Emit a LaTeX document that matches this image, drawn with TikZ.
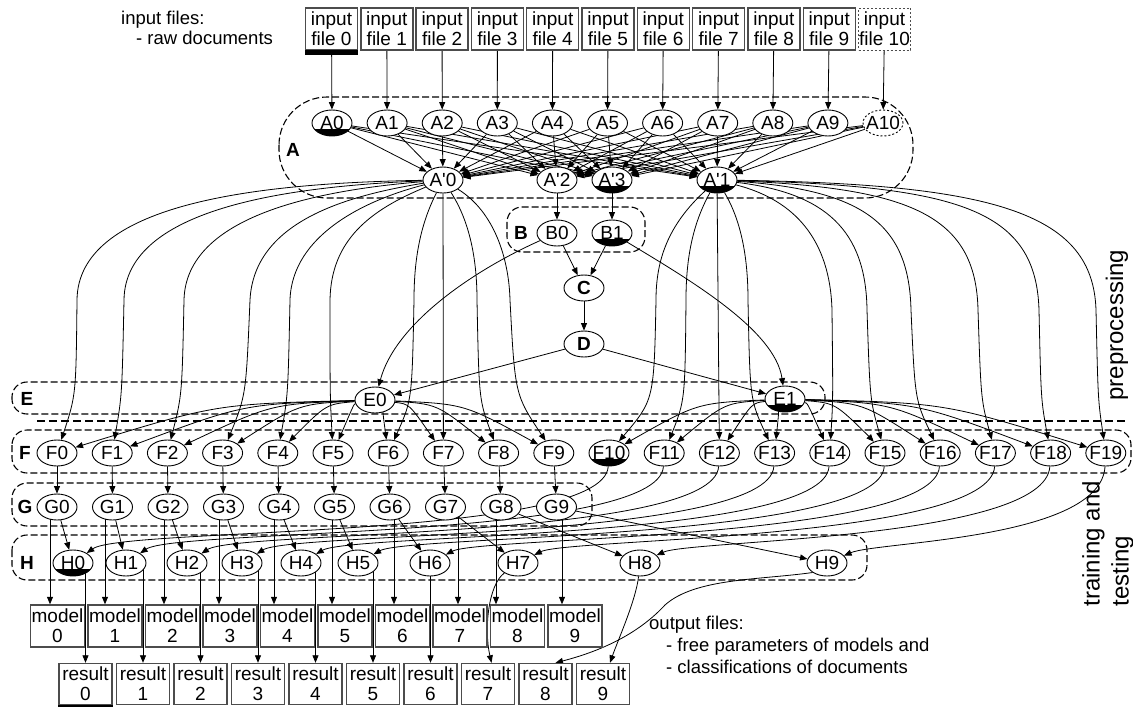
\documentclass[tikz,border=0pt]{standalone}
\usepackage{fontspec}
\newfontfamily\dgfont{Liberation Sans}
\usetikzlibrary{arrows.meta,shapes.geometric}
\pgfdeclarelayer{bg}
\pgfsetlayers{bg,main}
\begin{document}
\begin{tikzpicture}[x=1pt,y=-1pt,
  font=\dgfont\fontsize{19}{20}\selectfont,
  nd/.style={ellipse,draw,line width=0.9pt,fill=white,minimum width=40pt,minimum height=26pt,inner xsep=-3pt,inner ysep=0pt},
  capped/.style={path picture={\fill[black] (path picture bounding box.south west) rectangle ([yshift=7pt]path picture bounding box.south east);}},
  dotnd/.style={dash pattern=on 2pt off 2pt},
  filebox/.style={draw=black!70,line width=1.4pt,fill=white,minimum width=52pt,minimum height=42pt,inner sep=0pt,align=center},
  edge/.style={line width=0.8pt,-{Triangle[length=7.5pt,width=6pt]}},
  grp/.style={draw,line width=1.1pt,dash pattern=on 7pt off 3pt,rounded corners=15pt},
  glabel/.style={font=\dgfont\fontsize{19}{20}\selectfont\bfseries},
]
\useasboundingbox (0,0) rectangle (1133,707);

% ---------- input files ----------
\node[anchor=north west,align=left,inner sep=0pt,font=\dgfont\fontsize{18.5}{20}\selectfont] (inlabel) at (121,11) {input files:\\\hspace*{15pt}- raw documents};
\foreach \i in {0,...,9}
  \node[filebox] (in\i) at ({331.5+55.3*\i},29) {input\\file \i};
\node[filebox,line width=1pt,dash pattern=on 2pt off 2pt] (in10) at (884.5,29) {input\\file 10};
\fill ([yshift=0.7pt]in0.south west) rectangle ([yshift=-4pt]in0.south east);

% ---------- stage A ----------
\node[nd,capped] (A0) at (332,123) {A0};
\foreach \i in {1,...,9}
  \node[nd] (A\i) at ({332+55.1*\i},123) {A\i};
\node[nd,dotnd] (A10) at (883,123) {A10};
\node[nd] (Ap0) at (443,180) {A'0};
\node[nd] (Ap2) at (557,180) {A'2};
\node[nd,capped] (Ap3) at (612,180) {A'3};
\node[nd,capped] (Ap1) at (717,180) {A'1};
\node[glabel] (labA) at (293,150) {A};

% ---------- stages B, C, D ----------
\node[nd] (B0) at (557,233) {B0};
\node[nd,capped] (B1) at (612,233) {B1};
\node[glabel] (labB) at (521,233) {B};
\node[nd,glabel] (C) at (584,288) {C};
\node[nd,glabel] (D) at (584,344) {D};

% ---------- stage E ----------
\node[nd] (E0) at (375,400) {E0};
\node[nd,capped] (E1) at (785,399) {E1};
\node[glabel] (labE) at (27,399) {E};

% ---------- stage F ----------
\foreach \i in {0,...,9}
  \node[nd] (F\i) at ({57+55.2*\i},453) {F\i};
\node[nd,capped] (F10) at (609,453) {F10};
\foreach \i in {11,...,19}
  \node[nd] (F\i) at ({57+55.2*\i},453) {F\i};
\node[glabel] (labF) at (25,453) {F};

% ---------- stage G ----------
\foreach \i in {0,...,9}
  \node[nd] (G\i) at ({57+55.5*\i},507) {G\i};
\node[glabel] (labG) at (25,507) {G};

% ---------- stage H ----------
\node[nd,capped] (H0) at (73,563) {H0};
\foreach \i/\x in {1/126,2/187,3/242,4/301,5/358,6/430,7/518,8/640,9/827}
  \node[nd] (H\i) at (\x,563) {H\i};
\node[glabel] (labH) at (27,563) {H};

% ---------- output files ----------
\foreach \i in {0,...,9}
  \node[filebox,minimum width=54pt] (model\i) at ({57.5+57.5*\i},626) {model\\\i};
\foreach \i in {0,...,9}
  \node[filebox,minimum width=53pt,minimum height=41pt] (result\i) at ({85.5+57.5*\i},684) {result\\\i};
\fill (result0.south west) rectangle ([yshift=-3pt]result0.south east);
\node[anchor=north west,align=left,inner sep=0pt,font=\dgfont\fontsize{18.5}{22}\selectfont] (outlabel) at (649,616)
  {output files:\\\hspace*{17pt}- free parameters of models and\\\hspace*{17pt}- classifications of documents};

% ---------- phase captions ----------
\node[rotate=90,font=\dgfont\fontsize{24}{29}\selectfont] (prep) at (1117,325) {preprocessing};
\node[rotate=90,anchor=west,align=left,font=\dgfont\fontsize{24}{29}\selectfont] (train) at (1108,610) {training and\\testing};

\begin{pgfonlayer}{bg}
  % clusters
  \draw[grp,rounded corners=48pt] (279,97) rectangle (913,198);
  \draw[grp] (507,207) rectangle (645,252);
  \draw[grp] (12,382) rectangle (825,414);
  \draw[grp] (12,430) rectangle (1131,473);
  \draw[grp] (12,483) rectangle (592,526);
  \draw[grp] (12,535) rectangle (867,580);
  \draw[line width=2pt,dash pattern=on 8pt off 4pt] (37,421) -- (1125,421);

  % input files into A
  \foreach \i in {0,...,10}
    \draw[edge] (in\i) -- (A\i);
  \foreach \i in {0,...,10}{
    \foreach \j in {0,...,3}{
      \draw[edge] (A\i) -- (Ap\j);
    }
  }
  \draw[edge] (Ap2) -- (B0);
  \draw[edge] (Ap3) -- (B1);
  \draw[edge] (B0) -- (C);
  \draw[edge] (B1) -- (C);
  \draw[edge] (C) -- (D);
  \draw[edge] (B0) .. controls (470,272) and (395,325) .. (E0);
  \draw[edge] (B1) .. controls (690,280) and (775,330) .. (E1);
  \draw[edge] (D) -- (E0);
  \draw[edge] (D) -- (E1);

  % A'0 into F0..F9
  \draw[edge] (Ap0) .. controls (250,183) and (78,205) .. (77,300) .. controls (76,395) .. (F0);
  \draw[edge] (Ap0) .. controls (300,186) and (125,205) .. (124,300) .. controls (122,395) .. (F1);
  \draw[edge] (Ap0) .. controls (320,190) and (186,215) .. (184,300) .. controls (182,395) .. (F2);
  \draw[edge] (Ap0) .. controls (345,196) and (254,222) .. (250,300) .. controls (246,395) .. (F3);
  \draw[edge] (Ap0) .. controls (365,200) and (292,235) .. (290,300) .. controls (288,395) .. (F4);
  \draw[edge] (Ap0) .. controls (370,210) and (331,240) .. (330,300) .. controls (330,395) .. (F5);
  \draw[edge] (Ap0) .. controls (420,225) and (414,260) .. (414,300) .. controls (412,400) .. (F6);
  \draw[edge] (Ap0) -- (F7);
  \draw[edge] (Ap0) .. controls (470,222) and (477,260) .. (477,300) .. controls (479,400) .. (F8);
  \draw[edge] (Ap0) .. controls (495,212) and (509,260) .. (510,300) .. controls (515,395) .. (F9);

  % A'1 into F10..F19
  \draw[edge] (Ap1) .. controls (668,225) and (656,260) .. (656,300) .. controls (654,400) .. (F10);
  \draw[edge] (Ap1) .. controls (692,225) and (686,260) .. (686,300) .. controls (685,400) .. (F11);
  \draw[edge] (Ap1) -- (F12);
  \draw[edge] (Ap1) .. controls (742,222) and (748,260) .. (748,300) .. controls (750,400) .. (F13);
  \draw[edge] (Ap1) .. controls (795,200) and (830,240) .. (832,310) .. controls (833,400) .. (F14);
  \draw[edge] (Ap1) .. controls (825,193) and (866,230) .. (867,310) .. controls (870,400) .. (F15);
  \draw[edge] (Ap1) .. controls (865,190) and (909,225) .. (911,310) .. controls (915,400) .. (F16);
  \draw[edge] (Ap1) .. controls (910,188) and (976,215) .. (978,310) .. controls (981,400) .. (F17);
  \draw[edge] (Ap1) .. controls (960,186) and (1036,210) .. (1039,310) .. controls (1041,400) .. (F18);
  \draw[edge] (Ap1) .. controls (1000,184) and (1093,215) .. (1096,310) .. controls (1098,400) .. (F19);

  % E0, E1 into F
  \foreach \i in {0,...,9}{
    \pgfmathsetmacro{\fx}{57+55.2*\i}
    \draw[edge] (E0) .. controls ({(375+\fx)/2},404) .. (F\i);
  }
  \foreach \i in {10,...,19}{
    \pgfmathsetmacro{\fx}{57+55.2*\i}
    \draw[edge] (E1) .. controls ({(785+\fx)/2},403) .. (F\i);
  }

  % F to G, G to H
  \foreach \i in {0,...,9}{
    \draw[edge] (F\i) -- (G\i);
    \draw[edge] (G\i) -- (H\i);
  }

  % F10..F19 to H0..H9
  \foreach \i/\hx in {0/73,1/126,2/187,3/242,4/301,5/358,6/430,7/518,8/640,9/827}{
    \pgfmathtruncatemacro{\k}{\i+10}
    \pgfmathsetmacro{\fx}{57+55.2*\k}
    \pgfmathsetmacro{\ly}{527+1.6*\i}
    \draw[edge] (F\k) .. controls (\fx-5,540) and (\hx+50,\ly) .. (H\i);
  }

  % G to models
  \foreach \i/\dx in {0/-7,1/-7.5,2/-4,3/-4.5,4/-5,5/-2.5,6/4,7/12.5,8/-5,9/5.5}
    \draw[edge] ([xshift=\dx pt]G\i.center) -- ([xshift=\dx pt]G\i.center |- model\i.north);

  % H to results
  \foreach \i in {0,...,6}
    \draw[edge] (result\i.north |- H\i.center) -- (result\i.north);
  \draw[edge] (H7) .. controls (488,585) and (484,630) .. ([xshift=3.5pt]result7.north);
  \draw[edge] (H8) .. controls (636,600) and (618,640) .. ([xshift=7pt]result9.north);
  \draw[edge] (H9.south west) .. controls (760,580) and (695,578) .. (665,605) .. controls (640,632) and (605,650) .. ([xshift=10pt]result8.north);
\end{pgfonlayer}
\end{tikzpicture}
\end{document}
